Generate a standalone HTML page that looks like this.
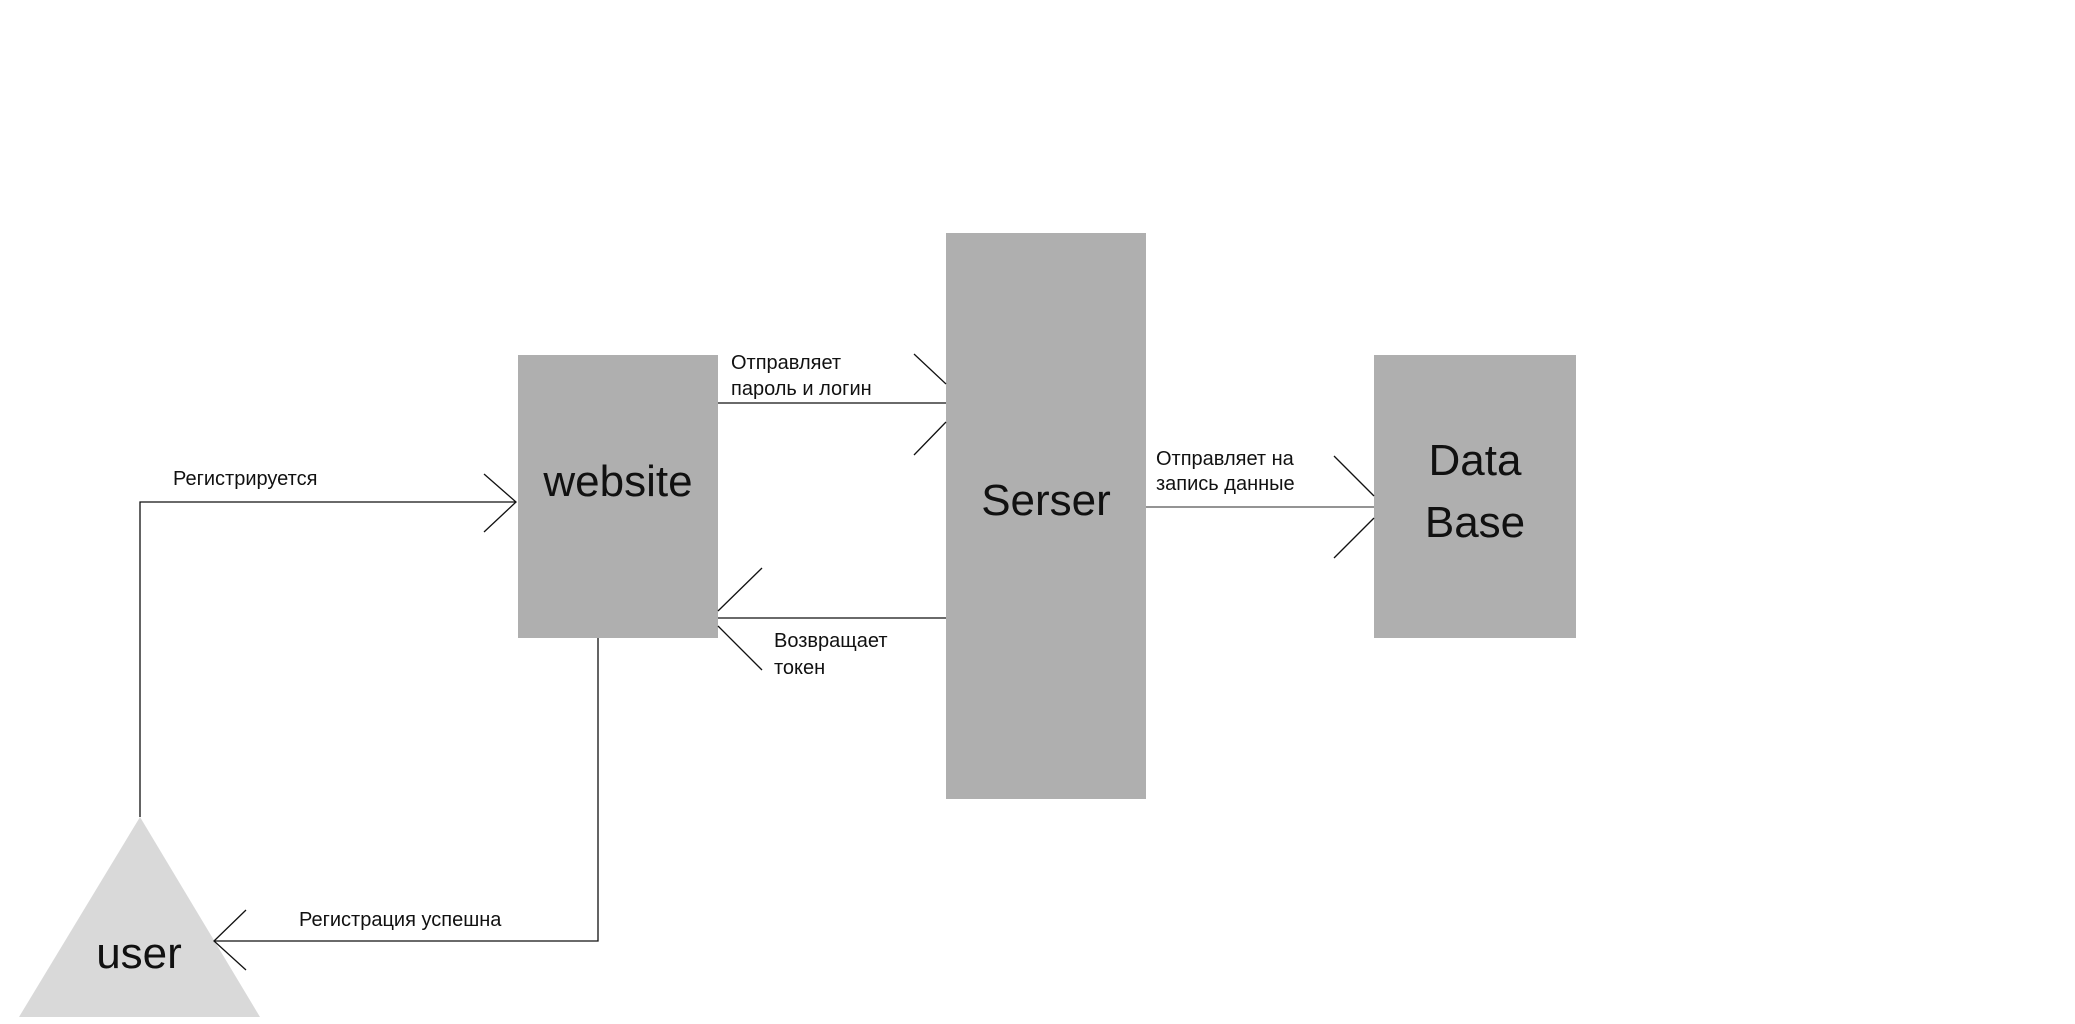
<!DOCTYPE html>
<html><head><meta charset="utf-8"><style>
html,body{margin:0;padding:0;background:#fff;}
svg{display:block;}
.l{font-family:"Liberation Sans","DejaVu Sans",sans-serif;font-size:20px;fill:#111;}
.b{font-family:"Liberation Sans","DejaVu Sans",sans-serif;font-size:44px;fill:#111;}
</style></head><body>
<svg width="2075" height="1024" viewBox="0 0 2075 1024" xmlns="http://www.w3.org/2000/svg">
<rect x="518" y="355" width="200" height="283" fill="#afafaf"/>
<rect x="946" y="233" width="200" height="566" fill="#afafaf"/>
<rect x="1374" y="355" width="202" height="283" fill="#afafaf"/>
<polygon points="140,817 260,1017 19,1017" fill="#d9d9d9"/>
<text class="b" x="618" y="496" text-anchor="middle">website</text>
<text class="b" x="1046" y="515" text-anchor="middle">Serser</text>
<text class="b" x="1475" y="475" text-anchor="middle">Data</text>
<text class="b" x="1475" y="537" text-anchor="middle">Base</text>
<text class="b" x="139" y="968" text-anchor="middle">user</text>
<g stroke="#111" stroke-width="1.3" fill="none">
<polyline points="140,817 140,502 516,502"/>
<polyline points="484,474 516,502 484,532"/>
<line x1="718" y1="403" x2="946" y2="403"/>
<line x1="914" y1="354" x2="946" y2="384"/>
<line x1="914" y1="455" x2="946" y2="422"/>
<line x1="718" y1="618" x2="946" y2="618"/>
<line x1="762" y1="568" x2="718" y2="611"/>
<line x1="718" y1="626" x2="762" y2="670"/>
<line x1="1146" y1="507" x2="1374" y2="507" stroke="#555"/>
<line x1="1334" y1="456" x2="1374" y2="496"/>
<line x1="1334" y1="558" x2="1374" y2="518"/>
<polyline points="598,638 598,941 214,941"/>
<polyline points="246,910 214,941 246,970"/>
</g>
<text class="l" x="173" y="485">Регистрируется</text>
<text class="l" x="731" y="369">Отправляет</text>
<text class="l" x="731" y="395">пароль и логин</text>
<text class="l" x="774" y="647">Возвращает</text>
<text class="l" x="774" y="674">токен</text>
<text class="l" x="1156" y="465">Отправляет на</text>
<text class="l" x="1156" y="490">запись данные</text>
<text class="l" x="299" y="926">Регистрация успешна</text>
</svg>
</body></html>
